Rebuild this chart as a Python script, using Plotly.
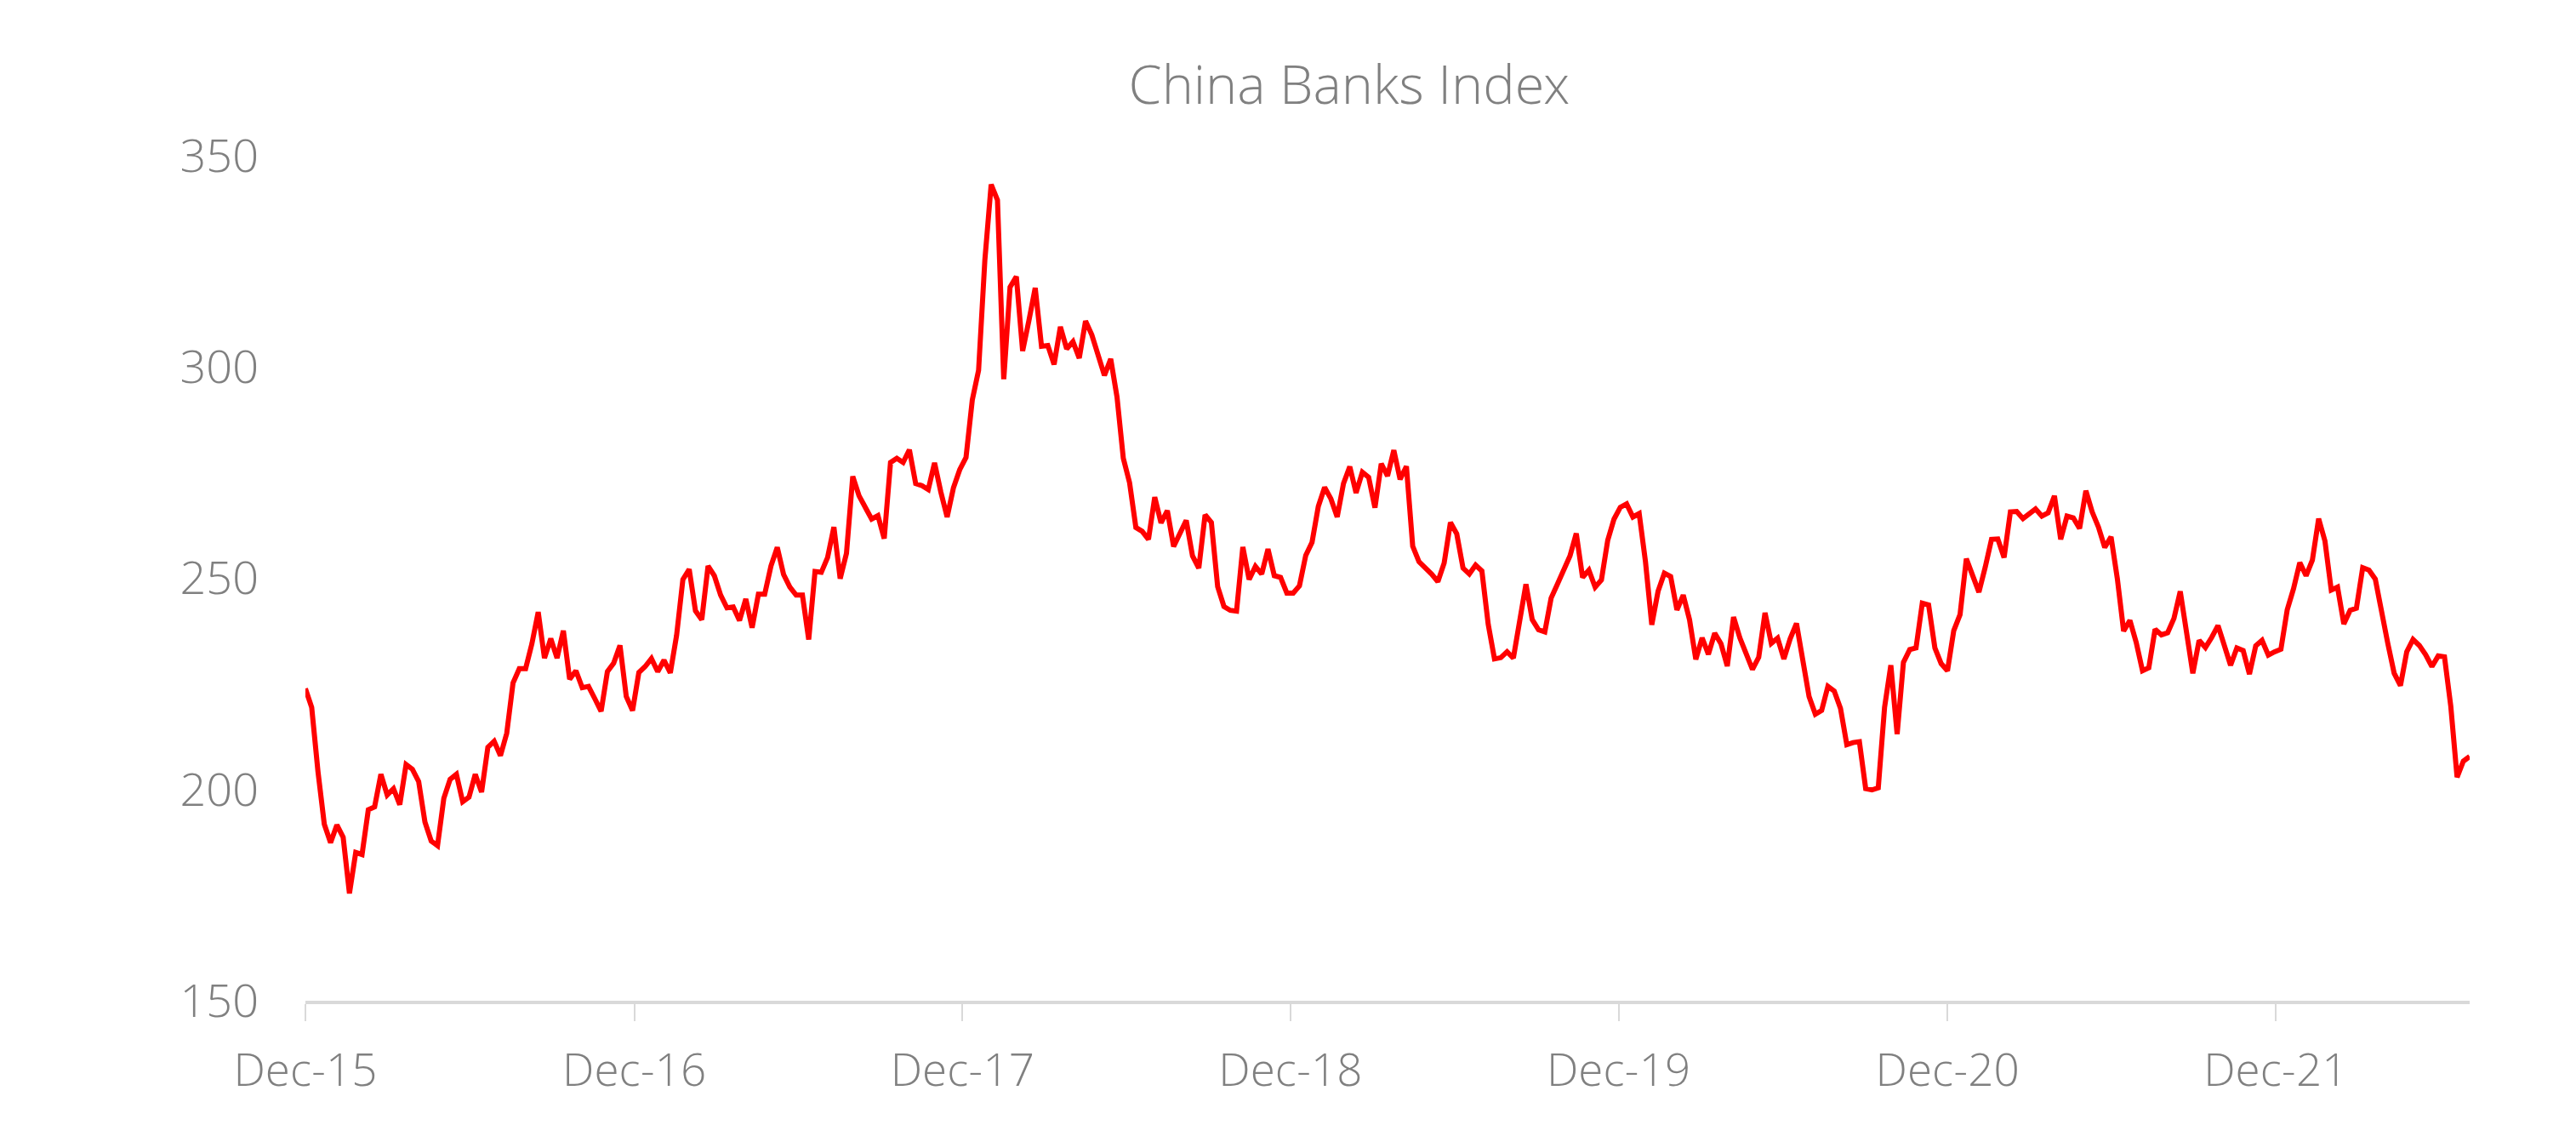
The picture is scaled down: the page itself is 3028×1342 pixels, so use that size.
import pandas as pd
import plotly.graph_objects as go

title_text = "China Banks Index"
start_date = "2015-12-04"

index_values = [
    223.9, 219.4, 204.2, 191.8, 187.4, 191.6, 188.7, 175.4, 185.1, 184.6,
    195.2, 195.9, 203.6, 198.7, 200.2, 196.4, 205.9, 204.8, 201.9, 192.3,
    187.8, 186.7, 197.9, 202.4, 203.6, 197.1, 198.2, 203.6, 199.4, 210.0,
    211.4, 208.0, 213.3, 225.2, 228.6, 228.6, 234.5, 242.0, 231.1, 235.7,
    231.1, 237.6, 226.1, 228.1, 224.1, 224.4, 221.5, 218.5, 227.9, 229.9,
    234.1, 222.0, 218.7, 227.7, 229.1, 231.0, 227.9, 230.6, 227.6, 236.5,
    249.7, 252.1, 242.3, 240.2, 252.9, 250.6, 246.0, 243.0, 243.2, 240.0,
    245.1, 238.3, 246.2, 246.2, 252.9, 257.3, 250.9, 247.9, 246.0, 246.0,
    235.5, 251.6, 251.4, 254.9, 262.1, 249.9, 255.9, 274.1, 269.5, 267.0,
    264.0, 264.8, 259.4, 277.4, 278.4, 277.4, 280.4, 272.4, 271.9, 271.0,
    277.3, 270.4, 264.5, 271.4, 275.7, 278.6, 292.2, 299.2, 325.4, 343.2,
    339.5, 297.1, 318.9, 321.4, 303.8, 311.0, 318.7, 304.9, 305.1, 300.6,
    309.5, 304.3, 306.0, 302.1, 310.9, 307.6, 302.9, 298.0, 301.9, 292.9,
    278.4, 272.6, 262.0, 261.1, 259.2, 269.2, 263.1, 266.0, 257.5, 260.7,
    263.7, 255.3, 252.4, 265.0, 263.2, 248.0, 243.3, 242.4, 242.2, 257.4,
    249.7, 252.8, 251.0, 256.9, 250.6, 250.2, 246.5, 246.5, 248.2, 255.4,
    258.5, 267.0, 271.5, 268.8, 264.5, 272.4, 276.4, 270.2, 275.1, 273.9,
    266.7, 277.1, 274.2, 280.3, 273.4, 276.5, 257.6, 253.9, 252.6, 251.0,
    249.2, 253.6, 263.2, 260.5, 252.4, 251.0, 253.1, 251.7, 239.1, 230.9,
    231.2, 232.6, 231.1, 240.5, 248.6, 240.2, 237.8, 237.3, 245.3, 248.6,
    251.9, 255.3, 260.6, 250.2, 251.9, 247.9, 249.6, 259.0, 264.0, 266.8,
    267.6, 264.5, 265.3, 253.9, 239.0, 246.9, 251.2, 250.4, 242.5, 246.0,
    240.2, 230.8, 235.9, 232.0, 237.0, 234.5, 229.2, 240.8, 235.9, 232.1,
    228.4, 231.3, 241.8, 234.6, 235.8, 230.9, 235.7, 239.3, 230.4, 222.0,
    217.8, 218.7, 224.4, 223.3, 219.2, 210.6, 211.1, 211.3, 200.2, 199.9,
    200.4, 219.4, 229.4, 213.1, 230.1, 233.1, 233.5, 244.1, 243.7, 233.5,
    229.8, 228.1, 237.6, 241.4, 254.6, 250.6, 246.7, 252.6, 259.2, 259.3,
    254.9, 265.7, 265.8, 264.1, 265.2, 266.4, 264.7, 265.5, 269.5, 259.2,
    264.7, 264.3, 261.8, 270.7, 265.7, 262.1, 257.3, 259.8, 249.9, 237.5,
    240.0, 234.8, 228.1, 228.8, 237.9, 236.6, 237.1, 240.5, 246.9, 237.5,
    227.5, 235.3, 233.6, 236.0, 238.8, 234.1, 229.4, 233.5, 232.9, 227.3,
    234.0, 235.3, 231.8, 232.6, 233.2, 242.5, 247.5, 253.7, 250.6, 254.3,
    264.1, 258.8, 247.2, 247.9, 239.2, 242.4, 242.9, 252.5, 251.9, 249.8,
    241.5, 234.5, 227.5, 224.6, 232.6, 235.5, 234.1, 231.9, 229.1, 231.6,
    231.4, 219.7, 202.9, 206.7, 207.8,
]

dates = pd.date_range(start=start_date, periods=len(index_values), freq="7D")

x_tick_dates = ["2015-12-04", "2016-12-04", "2017-12-04", "2018-12-04",
                "2019-12-04", "2020-12-04", "2021-12-04"]
x_tick_labels = ["Dec-15", "Dec-16", "Dec-17", "Dec-18", "Dec-19", "Dec-20", "Dec-21"]
y_tick_values = [150, 200, 250, 300, 350]

FONT = "Open Sans Light, Open Sans, sans-serif"
GREY = "#808080"
AXIS_GREY = "#d9d9d9"

fig = go.Figure()
fig.add_trace(go.Scatter(
    x=dates, y=index_values, mode="lines",
    line=dict(color="#ff0000", width=6),
    showlegend=False, hoverinfo="x+y",
))

fig.update_layout(
    width=3020, height=1334,
    paper_bgcolor="white", plot_bgcolor="white",
    margin=dict(l=351, r=125, t=175, b=166),
    font=dict(family=FONT, color=GREY, size=53, weight=300),
    title=dict(
        text=title_text, x=(1578 - 351) / (3020 - 351 - 125), xref="paper",
        xanchor="center",
        y=1 - 92 / 1334, yref="container", yanchor="middle",
        font=dict(family=FONT, size=63, color=GREY, weight=300),
    ),
    xaxis=dict(
        type="date",
        range=[dates[0], dates[-1]],
        tickvals=x_tick_dates, ticktext=x_tick_labels,
        showgrid=False, zeroline=False,
        showline=True, linecolor=AXIS_GREY, linewidth=4,
        ticks="outside", ticklen=20, tickwidth=2, tickcolor=AXIS_GREY,
        tickfont=dict(family=FONT, size=53, color=GREY, weight=300),
        ticklabelstandoff=12,
    ),
    yaxis=dict(
        range=[150, 350],
        tickvals=y_tick_values,
        showgrid=False, zeroline=False, showline=False,
        ticks="",
        tickfont=dict(family=FONT, size=54, color=GREY, weight=300),
        ticklabelstandoff=54,
    ),
)

fig.write_html("out.html")
